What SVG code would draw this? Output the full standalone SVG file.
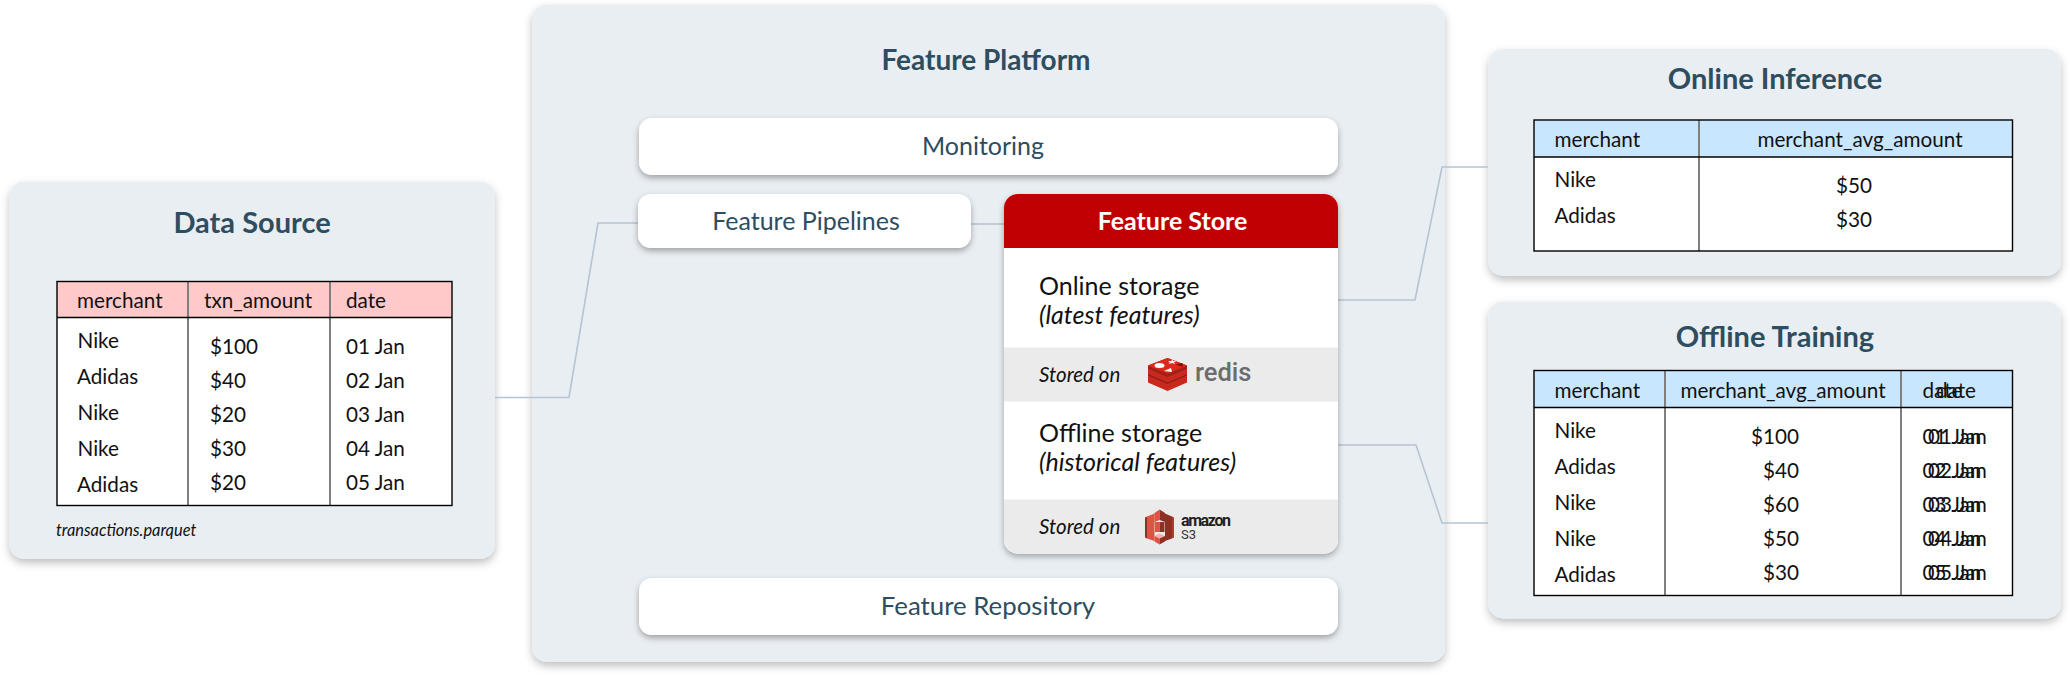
<svg xmlns="http://www.w3.org/2000/svg" width="2070" height="676" viewBox="0 0 2070 676">
<style>
text{font-family:Lato,"Noto Sans",sans-serif;fill:#111}
.title{font-size:29px;font-weight:700;fill:#2d4d60;text-anchor:middle}
.box{font-size:25px;fill:#2d4d60;text-anchor:middle}
.cell{font-size:20.700px}
.mid{text-anchor:middle}
.end{text-anchor:end}
.store{font-size:25px}
.note{font-size:25px;font-style:italic}
.on{font-size:20.500px;font-style:italic}
.card{fill:#e9eef2;filter:url(#sh)}
.pill{fill:#fff;filter:url(#sh2)}
.border{fill:none;stroke:#000;stroke-width:1.400}
.hline{stroke:#000;stroke-width:1.400}
.div{stroke:#7f7f7f;stroke-width:2}
.con{fill:none;stroke:#b6c3d1;stroke-width:1.600}
</style>
<defs>
<filter id="sh" x="-10%" y="-10%" width="120%" height="120%"><feDropShadow dx="0" dy="4" stdDeviation="4" flood-color="#000" flood-opacity=".25"/></filter>
<filter id="sh2" x="-10%" y="-20%" width="120%" height="150%"><feDropShadow dx="0" dy="3" stdDeviation="3" flood-color="#000" flood-opacity=".32"/></filter>
</defs>
<g id="feature-platform"><rect class="card" x="532" y="4.500" width="913" height="657.500" rx="15"/><text class="title" style="font-size:28px" x="986" y="70">Feature Platform</text></g>
<g id="data-source">
<rect class="card" x="9.500" y="181.500" width="485.500" height="377.500" rx="15"/>
<text class="title" x="252" y="233">Data Source</text>
<rect x="57" y="281.500" width="395" height="224" fill="#fff"/><rect x="57" y="281.500" width="395" height="36" fill="#ffc9c9"/>
<path class="div" d="M188 281.500V505.500M330 281.500V505.500"/><path class="hline" d="M57 317.500H452"/><rect class="border" x="57" y="281.500" width="395" height="224"/>
<g class="cell">
<text x="77" y="307.500">merchant</text><text x="204" y="307.500">txn_amount</text><text x="346" y="307.500">date</text>
<text x="77.500" y="347.500">Nike</text><text x="77" y="383.500">Adidas</text><text x="77.500" y="419.500">Nike</text><text x="77.500" y="455.500">Nike</text><text x="77" y="491.500">Adidas</text>
<text x="210" y="353.500">$100</text><text x="210" y="387.500">$40</text><text x="210" y="421.500">$20</text><text x="210" y="455.500">$30</text><text x="210" y="489.500">$20</text>
<text x="346" y="353.500">01 Jan</text><text x="346" y="387.500">02 Jan</text><text x="346" y="421.500">03 Jan</text><text x="346" y="455.500">04 Jan</text><text x="346" y="489.500">05 Jan</text>
</g>
<text x="56" y="535.500" font-size="16.400" font-style="italic">transactions.parquet</text>
</g>
<g id="online-inference">
<rect class="card" x="1488.500" y="49" width="572.500" height="227" rx="15"/>
<text class="title" x="1775" y="89">Online Inference</text>
<rect x="1534" y="120" width="478.500" height="131" fill="#fff"/><rect x="1534" y="120" width="478.500" height="37" fill="#c9e6ff"/>
<path class="div" d="M1699 120V251"/><path class="hline" d="M1534 157H2012.500"/><rect class="border" x="1534" y="120" width="478.500" height="131"/>
<g class="cell">
<text x="1554.500" y="146.500">merchant</text><text class="mid" x="1860" y="146.500">merchant_avg_amount</text>
<text x="1554.500" y="186.500">Nike</text><text x="1554.500" y="222.500">Adidas</text>
<text class="mid" x="1854" y="192.500">$50</text><text class="mid" x="1854" y="226.500">$30</text>
</g>
</g>
<g id="offline-training">
<rect class="card" x="1488.500" y="301.500" width="572.500" height="317" rx="15"/>
<text class="title" x="1775" y="347">Offline Training</text>
<rect x="1534" y="370.500" width="478.500" height="225" fill="#fff"/><rect x="1534" y="370.500" width="478.500" height="37" fill="#c9e6ff"/>
<path class="div" d="M1665 370.500V595.500M1901 370.500V595.500"/><path class="hline" d="M1534 407.500H2012.500"/><rect class="border" x="1534" y="370.500" width="478.500" height="225"/>
<g class="cell">
<text x="1554.500" y="397.500">merchant</text><text class="mid" x="1783" y="397.500">merchant_avg_amount</text>
<text x="1922.500" y="397.500">date</text><text x="1936" y="397.500">date</text>
<text x="1554.500" y="437.500">Nike</text><text x="1554.500" y="473.500">Adidas</text><text x="1554.500" y="509.500">Nike</text><text x="1554.500" y="545.500">Nike</text><text x="1554.500" y="581.500">Adidas</text>
<text class="end" x="1799" y="443.500">$100</text><text class="end" x="1799" y="477.500">$40</text><text class="end" x="1799" y="511.500">$60</text><text class="end" x="1799" y="545.500">$50</text><text class="end" x="1799" y="579.500">$30</text>
<text x="1922.500" y="443.500">01 Jan</text><text x="1928" y="443.500">01 Jan</text>
<text x="1922.500" y="477.500">02 Jan</text><text x="1928" y="477.500">02 Jan</text>
<text x="1922.500" y="511.500">03 Jan</text><text x="1928" y="511.500">03 Jan</text>
<text x="1922.500" y="545.500">04 Jan</text><text x="1928" y="545.500">04 Jan</text>
<text x="1922.500" y="579.500">05 Jan</text><text x="1928" y="579.500">05 Jan</text>
</g>
</g>
<g id="connectors">
<path class="con" d="M495 397.500H569L598 223H638"/>
<path class="con" d="M970 224H1004"/>
<path class="con" d="M1337 300H1415L1442 167H1488"/>
<path class="con" d="M1337 445H1416L1442 523H1488"/>
</g>
<g id="monitoring"><rect class="pill" x="639" y="118" width="699" height="57" rx="13"/><text class="box" x="983" y="155">Monitoring</text></g>
<g id="feature-pipelines"><rect class="pill" x="638" y="194" width="333" height="54" rx="13"/><text class="box" x="806" y="230">Feature Pipelines</text></g>
<g id="feature-repository"><rect class="pill" x="639" y="578" width="699" height="57" rx="13"/><text class="box" style="font-size:25.800px" x="988" y="614.500">Feature Repository</text></g>
<g id="feature-store">
<rect class="pill" x="1004" y="194" width="334" height="359.500" rx="14"/>
<path d="M1004 248V208a14 14 0 0 1 14-14H1324a14 14 0 0 1 14 14V248Z" fill="#c00000"/>
<text class="box" x="1172.500" y="230" style="fill:#fff;font-weight:700">Feature Store</text>
<rect x="1004" y="347.500" width="334" height="54" fill="#ebebeb"/>
<path d="M1004 499.500H1338V539.500a14 14 0 0 1-14 14H1018a14 14 0 0 1-14-14Z" fill="#ebebeb"/>
<text class="store" x="1039" y="295">Online storage</text><text class="note" x="1039" y="324">(latest features)</text>
<text class="on" x="1039" y="382">Stored on</text>
<g id="redis-logo">
<path d="M1148 375v7.500l19.500 8.500 19.500-8.500V375l-19.500 8.500z" fill="#c9281c"/>
<path d="M1148 373.500v2l19.500 8.500 19.500-8.500v-2l-19.500 8.500z" fill="#8e1a12"/>
<path d="M1148 368v6l19.500 8.500 19.500-8.500v-6l-19.500 8.500z" fill="#c9281c"/>
<path d="M1148 366.500v2l19.500 8.500 19.500-8.500v-2l-19.500 8.500z" fill="#8e1a12"/>
<path d="M1148 365.500l19.500-7.500 19.500 7.500v2l-19.500 8.500-19.500-8.500z" fill="#a8221a"/>
<path d="M1148 365.500l19.500-7.500 19.500 7.500-19.500 8z" fill="#d92a1c"/>
<ellipse cx="1159.500" cy="365.500" rx="5" ry="2.500" fill="#fff"/><path d="M1168 361h3.500l.7-1.800 1 1.800h3l-2.200 1.200 1 1.800-3-1-3.300 1 1.200-1.800z" fill="#fff"/><path d="M1164 371l7-3 1 4z" fill="#fff"/><path d="M1176 364.500l6.500-1.500v3.800z" fill="#7a0c00"/>
<text x="1195" y="381" style="font-family:Roboto,sans-serif;font-size:25.500px;font-weight:500;fill:#6a6c6e">redis</text>
</g>
<text class="store" x="1039" y="442">Offline storage</text><text class="note" x="1039" y="471">(historical features)</text>
<text class="on" x="1039" y="534">Stored on</text>
<g id="s3-logo">
<path d="M1145 517.500l2-1v22l-2-1z" fill="#8c3123"/><path d="M1147 516.500l7.500-3V541l-7.500-2.500z" fill="#e05243"/>
<path d="M1174 517.500l-2-1v22l2-1z" fill="#a8402f"/><path d="M1172 516.500l-7-3V541l7-2.500z" fill="#8c3123"/>
<path d="M1154.500 513l5-3.500v10.500l-5 2z" fill="#e05243"/><path d="M1165 513l-5.500-3.500v10.500l5.500 2z" fill="#8c3123"/>
<path d="M1155 522h4.500v10h-4.500z" fill="#e05243"/><path d="M1159.500 522h5v10h-5z" fill="#8c3123"/>
<path d="M1154.500 536l5-2.500 5.500 2.500-5.500 2.500z" fill="#f2b0a9"/><path d="M1154.500 536l5 2.500v6l-5-3z" fill="#e05243"/><path d="M1165 536l-5.500 2.500v6l5.500-3z" fill="#8c3123"/>
<text x="1181" y="526" style="font-family:Roboto,sans-serif;font-size:16px;font-weight:700;fill:#222" textLength="50">amazon</text>
<text x="1181" y="539" style="font-family:Roboto,sans-serif;font-size:13px;fill:#333">S3</text>
</g>
</g>
</svg>
